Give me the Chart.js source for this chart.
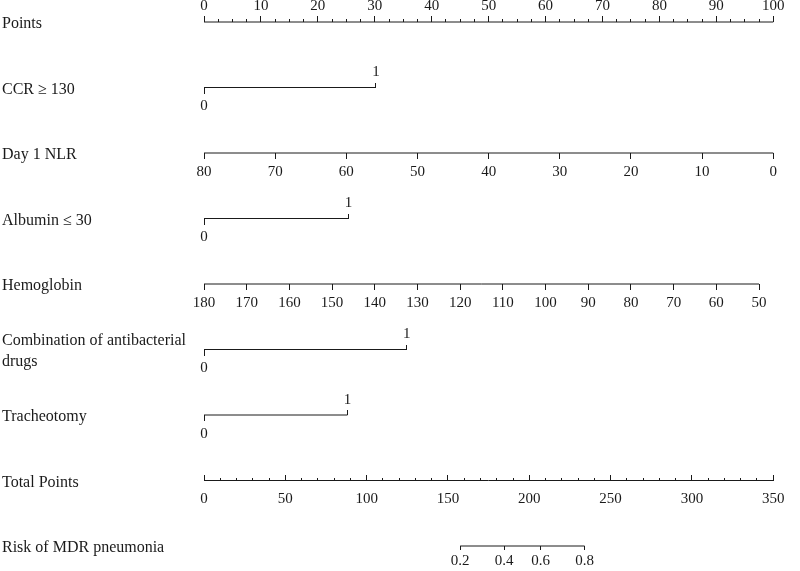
<!DOCTYPE html>
<html>
<head>
<meta charset="utf-8">
<script src="https://cdn.jsdelivr.net/npm/chart.js@4.4.0/dist/chart.umd.min.js"></script>
<style>
html,body{margin:0;padding:0;background:#fff}
#wrap{width:800px;height:571px}
</style>
</head>
<body>
<div id="wrap"><canvas id="c" width="800" height="571"></canvas></div>
<script>
// ---- data ----
const rowNames = ['Points', 'CCR \u2265 130', 'Day 1 NLR', 'Albumin \u2264 30', 'Hemoglobin',
  ['Combination of antibacterial', 'drugs'], 'Tracheotomy', 'Total Points', 'Risk of MDR pneumonia'];

const pointsMajor = [0, 10, 20, 30, 40, 50, 60, 70, 80, 90, 100];
const pointsMinorStep = 2.5;

const binaryLevels = [0, 1];
const ccrPoints = 30.2;          // points for CCR >= 130 = 1
const albuminPoints = 25.4;      // points for Albumin <= 30 = 1
const combinationPoints = 35.6;  // points for combination of antibacterial drugs = 1
const tracheotomyPoints = 25.2;  // points for tracheotomy = 1

const nlrTicks = [80, 70, 60, 50, 40, 30, 20, 10, 0];
const nlrPointsPerUnit = 1.25;

const hbTicks = [180, 170, 160, 150, 140, 130, 120, 110, 100, 90, 80, 70, 60, 50];
const hbPointsPerUnit = 0.75;

const totalMajor = [0, 50, 100, 150, 200, 250, 300, 350];
const totalMinorStep = 10;
const totalMax = 350;

const riskLabels = ['0.2', '0.4', '0.6', '0.8'];
const riskTotalPoints = [157.5, 184.5, 207, 234];

// ---- helpers ----
function seq(a, b, step) { const r = []; for (let v = a; v <= b + 1e-9; v += step) r.push(v); return r; }
const pointsMinor = seq(pointsMajor[0], pointsMajor[pointsMajor.length - 1], pointsMinorStep);
const totalMinor = seq(totalMajor[0], totalMajor[totalMajor.length - 1], totalMinorStep);

const INK = '#1a1a1a';
const FONT = 'Liberation Serif';
Chart.defaults.font.family = FONT;

function xAxis(row, min, max, reverse, ticks, labelFn, tickLen, pad) {
  return {
    type: 'linear', axis: 'x', position: { y: row }, min: min, max: max, reverse: reverse,
    bounds: 'data',
    afterBuildTicks: s => { s.ticks = ticks.map(v => ({ value: v })); },
    ticks: {
      autoSkip: false, maxRotation: 0, minRotation: 0, padding: pad, color: INK,
      font: { family: FONT, size: 15 }, callback: labelFn
    },
    grid: { display: true, drawOnChartArea: false, drawTicks: true, tickLength: tickLen, color: INK, lineWidth: 1 },
    border: { display: false }
  };
}
const asText = v => String(v);
const blank = () => '';

const scales = {
  y: {
    type: 'linear', position: 'left', min: 0, max: rowNames.length - 1, reverse: true,
    afterBuildTicks: s => { s.ticks = rowNames.map((_, i) => ({ value: i })); },
    afterFit: s => { s.width = 202; },
    ticks: {
      autoSkip: false, crossAlign: 'far', padding: 0, labelOffset: 2, color: INK,
      font: { family: FONT, size: 16, lineHeight: 1.3 },
      callback: v => rowNames[v]
    },
    grid: { display: false }, border: { display: false }
  },
  ptsMajor: xAxis(0, 0, 100, false, pointsMajor, asText, -6, -19),
  ptsMinor: xAxis(0, 0, 100, false, pointsMinor, blank, -3, 0),
  ccr0: xAxis(1, 0, 100 / ccrPoints, false, [binaryLevels[0]], asText, 6, 4),
  ccr1: xAxis(1, 0, 100 / ccrPoints, false, [binaryLevels[1]], asText, -5, -19),
  nlr: xAxis(2, nlrTicks[0] - 100 / nlrPointsPerUnit, nlrTicks[0], true, nlrTicks, asText, 6, 4),
  alb0: xAxis(3, 0, 100 / albuminPoints, false, [binaryLevels[0]], asText, 6, 4),
  alb1: xAxis(3, 0, 100 / albuminPoints, false, [binaryLevels[1]], asText, -5, -19),
  hb: xAxis(4, hbTicks[0] - 100 / hbPointsPerUnit, hbTicks[0], true, hbTicks, asText, 6, 4),
  comb0: xAxis(5, 0, 100 / combinationPoints, false, [binaryLevels[0]], asText, 6, 4),
  comb1: xAxis(5, 0, 100 / combinationPoints, false, [binaryLevels[1]], asText, -5, -19),
  tra0: xAxis(6, 0, 100 / tracheotomyPoints, false, [binaryLevels[0]], asText, 6, 4),
  tra1: xAxis(6, 0, 100 / tracheotomyPoints, false, [binaryLevels[1]], asText, -5, -19),
  totMajor: xAxis(7, 0, totalMax, false, totalMajor, asText, -6, 15.5),
  totMinor: xAxis(7, 0, totalMax, false, totalMinor, blank, -3, 0),
  risk: xAxis(8, 0, totalMax, false, riskTotalPoints, (v, i) => riskLabels[i], 4, 2)
};

function seg(axisId, row, from, to) {
  return {
    xAxisID: axisId, yAxisID: 'y',
    data: [{ x: from, y: row }, { x: to, y: row }],
    borderColor: INK, borderWidth: 1, pointRadius: 0, fill: false, clip: false, tension: 0
  };
}
const last = a => a[a.length - 1];

const datasets = [
  seg('ptsMajor', 0, pointsMajor[0], last(pointsMajor)),
  seg('ccr0', 1, binaryLevels[0], binaryLevels[1]),
  seg('nlr', 2, nlrTicks[0], last(nlrTicks)),
  seg('alb0', 3, binaryLevels[0], binaryLevels[1]),
  seg('hb', 4, hbTicks[0], last(hbTicks)),
  seg('comb0', 5, binaryLevels[0], binaryLevels[1]),
  seg('tra0', 6, binaryLevels[0], binaryLevels[1]),
  seg('totMajor', 7, totalMajor[0], last(totalMajor)),
  seg('risk', 8, riskTotalPoints[0], last(riskTotalPoints))
];

new Chart(document.getElementById('c'), {
  type: 'line',
  data: { datasets: datasets },
  options: {
    responsive: false, animation: false, devicePixelRatio: 1,
    layout: { padding: { left: 2, right: 16, top: 22, bottom: 25 } },
    plugins: { legend: { display: false }, tooltip: { enabled: false } },
    events: [],
    scales: scales
  }
});
</script>
</body>
</html>
